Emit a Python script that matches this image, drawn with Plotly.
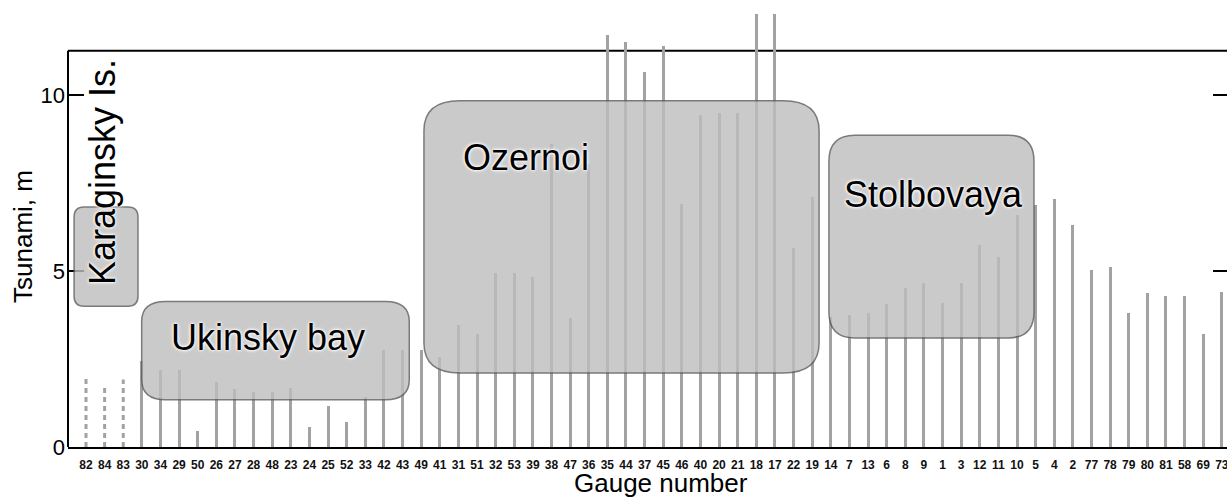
import plotly.graph_objects as go

# ---------------- data ----------------
gauges = ["82", "84", "83", "30", "34", "29", "50", "26", "27", "28", "48", "23", "24", "25",
          "52", "33", "42", "43", "49", "41", "31", "51", "32", "53", "39", "38", "47", "36",
          "35", "44", "37", "45", "46", "40", "20", "21", "18", "17", "22", "19", "14", "7",
          "13", "6", "8", "9", "1", "3", "12", "11", "10", "5", "4", "2", "77", "78", "79",
          "80", "81", "58", "69", "73"]
tsunami_m = [2.0, 1.75, 1.92, 2.45, 2.2, 2.18, 0.45, 1.86, 1.64, 1.57, 1.57, 1.67, 0.58, 1.16,
             0.72, 1.41, 2.76, 2.76, 2.76, 2.57, 3.47, 3.21, 4.95, 4.95, 4.84, 8.6, 3.66, 8.05,
             11.7, 11.51, 10.66, 11.4, 6.9, 9.43, 9.5, 9.5, 12.3, 12.3, 5.64, 7.11, 3.7, 3.75,
             3.8, 4.06, 4.51, 4.67, 4.08, 4.67, 5.74, 5.39, 6.59, 6.88, 7.04, 6.31, 5.03, 5.12,
             3.8, 4.37, 4.29, 4.29, 3.2, 4.39]
dashed_gauges = ["82", "84", "83"]
y_ticks = [0, 5, 10]

region_names = ["Karaginsky Is.", "Ukinsky bay", "Ozernoi", "Stolbovaya"]

# ---------------- layout constants ----------------
W, H = 1227, 497
ML, MR, MT, MB = 68, 0, 10, 50
PX_X = 18.62           # pixels per gauge slot
PX_Y = 35.2            # pixels per metre
X_MIN = -0.967
X_MAX = X_MIN + (W - ML - MR) / PX_X
Y_MAX = (H - MT - MB) / PX_Y
FRAME_TOP = 11.26

BAR_COLOR = "#a2a2a2"
FONT = "Liberation Sans, Arial, sans-serif"

idx = list(range(len(gauges)))
solid_x = [i for i, g in zip(idx, gauges) if g not in dashed_gauges]
solid_y = [h for g, h in zip(gauges, tsunami_m) if g not in dashed_gauges]
dash_x, dash_y = [], []
for i, g, h in zip(idx, gauges, tsunami_m):
    if g in dashed_gauges:
        dash_x += [i, i, None]
        dash_y += [0, h, None]

fig = go.Figure()
fig.add_trace(go.Bar(x=solid_x, y=solid_y, width=3 / PX_X,
                     marker=dict(color=BAR_COLOR, line=dict(width=0)),
                     showlegend=False, hoverinfo="skip"))
fig.add_trace(go.Scatter(x=dash_x, y=dash_y, mode="lines",
                         line=dict(color=BAR_COLOR, width=3, dash="5px,4px"),
                         showlegend=False, hoverinfo="skip"))


def rounded_path(x0, x1, y0, y1, rpx_x, rpx_y):
    rx = rpx_x / PX_X
    ry = rpx_y / PX_Y
    return (f"M {x0 + rx},{y0} L {x1 - rx},{y0} Q {x1},{y0} {x1},{y0 + ry} "
            f"L {x1},{y1 - ry} Q {x1},{y1} {x1 - rx},{y1} "
            f"L {x0 + rx},{y1} Q {x0},{y1} {x0},{y1 - ry} "
            f"L {x0},{y0 + ry} Q {x0},{y0} {x0 + rx},{y0} Z")


boxes = [
    (-0.64, 2.79, 4.0, 6.82, 10, 10),
    (2.99, 17.36, 1.34, 4.13, 24, 20),
    (18.15, 39.37, 2.10, 9.84, 36, 30),
    (39.9, 50.91, 3.10, 8.86, 26, 26),
]
label_pos = [(0.86, 7.81, -90), (9.75, 3.12, 0), (23.63, 8.22, 0), (45.54, 7.17, 0)]

shapes = []
shapes.append(dict(type="line", xref="paper", yref="y", x0=0, x1=1, y0=FRAME_TOP, y1=FRAME_TOP,
                   line=dict(color="black", width=2), layer="below"))
shapes.append(dict(type="line", xref="paper", yref="y", x0=0, x1=0, y0=0, y1=FRAME_TOP,
                   line=dict(color="black", width=2), layer="above"))
for t in y_ticks[1:]:
    shapes.append(dict(type="line", xref="paper", yref="y", x0=1 - 14 / (W - ML - MR), x1=1,
                       y0=t, y1=t, line=dict(color="black", width=2), layer="above"))
for (x0, x1, y0, y1, rx, ry) in boxes:
    shapes.append(dict(type="path", xref="x", yref="y", path=rounded_path(x0, x1, y0, y1, rx, ry),
                       fillcolor="rgb(190,190,190)", opacity=0.8,
                       line=dict(color="rgb(90,90,90)", width=1.5), layer="above"))

glow = "0px 0px 2px white, 0px 0px 3px white, 0px 0px 4px white"
annotations = []
for name, (ax, ay, ang) in zip(region_names, label_pos):
    annotations.append(dict(text=name, x=ax, y=ay, xref="x", yref="y", showarrow=False,
                            textangle=ang, xanchor="center", yanchor="middle",
                            font=dict(family=FONT, size=36, color="black", shadow=glow)))
annotations.append(dict(text="Tsunami, m", xref="paper", yref="paper",
                        x=(23 - ML) / (W - ML - MR), y=(H - MB - 237) / (H - MT - MB),
                        textangle=-90, showarrow=False, xanchor="center", yanchor="middle",
                        font=dict(family=FONT, size=26, color="black")))
annotations.append(dict(text="Gauge number", xref="paper", yref="paper",
                        x=(661 - ML) / (W - ML - MR), y=(H - MB - 483) / (H - MT - MB),
                        showarrow=False, xanchor="center", yanchor="middle",
                        font=dict(family=FONT, size=26, color="black")))

fig.update_layout(
    width=W, height=H,
    margin=dict(l=ML, r=MR, t=MT, b=MB, autoexpand=False),
    paper_bgcolor="white", plot_bgcolor="white",
    bargap=0, showlegend=False,
    shapes=shapes, annotations=annotations,
    xaxis=dict(type="linear", range=[X_MIN, X_MAX], tickmode="array", tickvals=idx,
               ticktext=gauges, ticks="", showgrid=False, zeroline=False,
               showline=True, linecolor="black", linewidth=2, tickangle=0,
               tickfont=dict(family=FONT, size=12, color="#111", weight="bold"),
               ticklabelstandoff=6, ticklabeloverflow="allow"),
    yaxis=dict(range=[0, Y_MAX], tickmode="array", tickvals=y_ticks,
               ticktext=[str(t) for t in y_ticks], ticks="inside", ticklen=16, tickwidth=2,
               tickcolor="black", showgrid=False, zeroline=False, showline=False,
               tickfont=dict(family=FONT, size=22, color="black"), ticklabelstandoff=2),
)

fig.write_html("out.html", config={"displayModeBar": False},
               post_script="document.body.style.margin='0px';"
                           "document.body.style.overflow='hidden';")
